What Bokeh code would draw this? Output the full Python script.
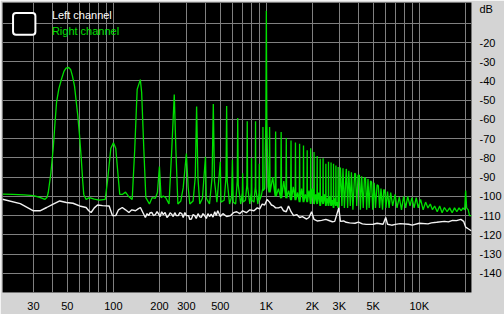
from bokeh.plotting import figure
from bokeh.models import FixedTicker, Label, BoxAnnotation, Range1d
from bokeh.embed import file_html
from bokeh.resources import INLINE

# ---------------- data ----------------
x_tick_hz = [30, 50, 100, 200, 300, 500, 1000, 2000, 3000, 5000, 10000]
x_tick_labels = ["30", "50", "100", "200", "300", "500", "1K", "2K", "3K", "5K", "10K"]
grid_hz = [30, 40, 50, 60, 70, 80, 90, 100, 200, 300, 400, 500, 600, 700, 800, 900,
           1000, 2000, 3000, 4000, 5000, 6000, 7000, 8000, 9000, 10000, 20000]
y_tick_db = [-20, -30, -40, -50, -60, -70, -80, -90, -100, -110, -120, -130, -140]
grid_db = [-10, -20, -30, -40, -50, -60, -70, -80, -90, -100, -110, -120, -130, -140]
unit_y = "dB"
unit_x = "Hz"
series_names = ["Left channel", "Right channel"]

# Right channel (green)
green_hz = [
    18.83, 22, 26, 30, 33, 35.7, 36.8, 37.5, 39, 40.4, 41.5, 42.5, 44, 45.8, 47.5, 49, 51, 52.5, 54,
    55.7, 57, 58.5, 60, 61.6, 63, 64, 66.3, 69.7, 75, 81, 88.4,
    91.5, 96.2, 100, 103.6, 107.2, 110, 114.3, 120, 125, 132.7,
    138, 143, 150, 153, 158, 163, 172, 179, 188, 194, 200, 205, 212, 220, 231,
    241, 250, 256, 264, 276, 286, 300, 308, 316, 332, 343, 350, 357, 367, 382, 400, 405, 425,
    442, 450, 458, 475, 500, 505, 530, 545, 550, 555, 575, 593, 600, 607, 630, 645, 650, 655,
    680, 697, 700, 705, 730, 746, 750, 754, 780, 797, 800, 804, 830, 847, 850, 853, 880, 897,
    900, 904, 925, 947, 950, 953, 975, 993, 1000, 1007, 1025,
    1042, 1050, 1058, 1100, 1142, 1150, 1158, 1200, 1242, 1250, 1258, 1300,
    1342, 1350, 1358, 1400, 1442, 1450, 1458, 1500, 1542, 1550, 1558, 1600,
    1642, 1650, 1658, 1700, 1742, 1750, 1758, 1800, 1842, 1850, 1858, 1900,
    1942, 1950, 1958, 2000, 2042, 2050, 2058, 2100, 2142, 2150, 2158, 2200,
    2242, 2250, 2258, 2300, 2342, 2350, 2358, 2400, 2442, 2450, 2458, 2500,
    2542, 2550, 2558, 2600, 2642, 2650, 2658, 2700, 2742, 2750, 2758, 2800,
    2842, 2850, 2858, 2900, 2942, 2950, 2958, 3000,
    3050, 3120, 3170, 3240, 3330, 3340, 3400, 3460, 3540, 3600, 3680, 3780, 3830, 3900,
    3980, 4060, 4120, 4200, 4300, 4380, 4450, 4530, 4620, 4700, 4800, 4880, 4960, 5070,
    5170, 5300, 5400, 5500, 5620, 5750, 5860, 5950, 6050,
    6200, 6350, 6500, 6700, 6950, 7150, 7400, 7650, 7900, 8150, 8400, 8700, 8950, 9250,
    9550, 9850, 10200, 10600, 11000, 11400, 11800, 12200, 12600, 13100, 13600, 14100,
    14600, 15200, 15800, 16400, 17000, 17600, 18200, 18800, 19300, 19800, 20100, 20400,
    20900, 21300, 21950]
green_db = [
    -98.8, -99, -99.2, -99.6, -100.5, -101.6, -100.5, -98, -88, -75, -62, -51, -44, -39, -35, -33.3, -33, -34, -37.5,
    -42.7, -50, -58, -68, -80, -92, -99, -101.6, -100.7, -101.5, -102, -101.6,
    -92, -75, -72.2, -75, -88.8, -99, -99, -97.8, -99.8, -101.6,
    -75, -44.4, -39.3, -46, -75, -100.7, -104, -100.7, -101, -98, -84.5, -100.7, -99.8, -100.7, -104,
    -75, -47, -75, -104, -102.4, -95.6, -77.7, -95, -104, -102.4, -90, -53.3, -90, -104, -101, -79.4, -101, -104,
    -90, -52, -92, -103, -82, -103, -102, -90, -53, -92, -104, -100, -81, -103, -104, -92, -59.3, -94,
    -104, -98, -88, -103, -102, -94, -61, -95, -104, -98, -80, -102, -103, -95, -61, -96, -104, -98,
    -83, -102, -100, -96, -64, -97, -96, -60, -3.5, -60, -95,
    -98, -64, -98, -90, -100, -66.3, -100, -96, -101, -66.6, -101, -92,
    -101, -69.7, -101, -97, -102, -71, -102, -95, -102, -72, -102, -98,
    -103, -72.6, -103, -96, -103, -73.5, -103, -99, -103, -76, -103, -97,
    -104, -75, -104, -96, -104, -77, -104, -99, -104, -79, -104, -98,
    -105, -80.5, -105, -100, -104, -80.2, -104, -99, -105, -83, -105, -101,
    -105, -82, -105, -100, -105, -82.4, -105, -102, -106, -83, -106, -101,
    -105, -84, -105, -103, -106, -84.7, -106, -102,
    -85, -105, -85.4, -106, -85.8, -86, -106, -86.7, -105, -87.5, -107, -88, -88.4, -105,
    -89, -89, -107, -89.6, -106, -90.3, -90.5, -107, -91, -106, -92, -92.5, -107, -93,
    -106, -94, -94.5, -106, -96, -107, -96.4, -97, -106,
    -97.5, -106, -98, -105, -99, -106, -100.4, -107, -100, -106, -100, -105, -100.7, -106,
    -100.7, -106, -101.6, -107, -103, -106, -104, -107, -105, -108, -105, -108.5,
    -105.8, -108, -106, -108.5, -106, -108, -106, -107.5, -106, -107, -97, -106,
    -107, -110, -110]

# Left channel (white)
white_hz = [
    18.83, 24.6, 30, 33.1, 36.6, 40.4, 44.6, 49.3, 54.4, 60.1, 66.3, 69, 71.5, 75, 78.8, 85,
    93.8, 98.5, 103.6, 108, 114.3, 120, 126.3, 132, 139.5, 145, 150.2, 155, 161.8, 166, 170,
    174, 178.6, 183, 188, 193, 197, 202, 207, 212, 217.8, 224, 230, 235, 240.4, 246, 252, 258,
    265.6, 272, 280, 286, 293.3, 300, 310, 316, 323.8, 332, 340, 348, 357.5, 366, 375, 385,
    394.7, 405, 415, 425, 435.8, 448, 460, 470, 481, 500, 520, 550, 584, 610, 640, 670, 700,
    740, 780, 830, 872, 905, 940, 975, 1011, 1050, 1080, 1115, 1150, 1200, 1250, 1296, 1350,
    1396, 1450, 1507, 1580, 1650, 1720, 1834, 1900, 1976, 2050, 2150, 2300, 2450, 2592, 2700,
    2800, 2975, 3050, 3200, 3327, 3500, 3800, 4000, 4246, 4500, 5000, 5300, 5800, 6035, 6200,
    6600, 6975, 7500, 8500, 9000, 10000, 11400, 12000, 13000, 14600, 15500, 16500, 17500,
    18700, 19500, 20100, 21000, 21950]
white_db = [
    -101.5, -103.8, -107.5, -107.5, -105.8, -104, -102.4, -103.2, -103.6, -105, -105.8, -107.5, -108.4, -106, -104.5, -104.8,
    -105, -110, -110, -107, -105.8, -107, -108.4, -107, -107.5, -106.5, -105.8, -108, -111, -109, -110,
    -108.5, -108.4, -110, -109.5, -108, -109, -110.5, -108, -109.5, -108.4, -111, -110, -108.5, -109.3, -110.5, -108.5, -110,
    -110, -108.5, -109, -111, -108.4, -110, -110, -112, -111.8, -109.5, -110, -111.5, -109, -110.5, -111, -109,
    -110, -111.5, -109, -110.5, -109.3, -110.8, -108, -110, -107.5, -110.5, -109, -110.5, -110, -108.5, -108, -109, -107.5,
    -108.5, -107, -107.5, -106, -106.5, -104, -104.5, -101.6, -103, -104.5, -105, -106, -106, -105.5, -107.5, -108,
    -105, -108, -110, -109.5, -111, -110.5, -111.8, -111, -108, -112, -112.8, -112.5, -112, -112.7, -113.2,
    -113, -106, -113, -112.8, -113.5, -113.8, -114, -113.4, -114.3, -114.6, -114.5, -114, -114.5, -111, -114.5,
    -115, -114.6, -114.2, -114.5, -115, -114, -114.3, -113.8, -113.5, -113, -113.3, -112.5, -112.6,
    -112, -113, -116, -117, -118]

# ---------------- styles ----------------
BG = "#d4d4d4"
GRID = "#808080"
GREEN = "#00e000"
WHITE = "#f2f2f2"
FONT = "Liberation Sans"

p = figure(width=504, height=314, x_axis_type="log", y_axis_location="right",
           x_range=Range1d(18.83, 21950), y_range=Range1d(-150, 0.8),
           output_backend="svg", toolbar_location=None,
           background_fill_color="black", border_fill_color=BG,
           min_border_left=2, min_border_right=27, min_border_top=2, min_border_bottom=17,
           outline_line_color=None)

p.xaxis.ticker = FixedTicker(ticks=x_tick_hz, minor_ticks=[])
p.xaxis.major_label_overrides = {t: l for t, l in zip(x_tick_hz, x_tick_labels)}
yt = y_tick_db + [-2.5]
p.yaxis.ticker = FixedTicker(ticks=yt, minor_ticks=[])
ov = {t: str(t) for t in y_tick_db}
ov[-2.5] = unit_y
p.yaxis.major_label_overrides = ov

for ax in (p.xaxis, p.yaxis):
    ax.axis_line_color = None
    ax.major_tick_line_color = None
    ax.minor_tick_line_color = None
    ax.major_label_text_font = FONT
    ax.major_label_text_font_size = "11px"
    ax.major_label_text_color = "black"
p.xaxis.major_label_standoff = 1
p.yaxis.major_label_standoff = 2

p.xgrid.ticker = FixedTicker(ticks=grid_hz, minor_ticks=[])
p.ygrid.ticker = FixedTicker(ticks=grid_db, minor_ticks=[])
for g in (p.xgrid, p.ygrid):
    g.grid_line_color = GRID
    g.grid_line_width = 1
    g.grid_line_alpha = 1

p.line(green_hz, green_db, line_color=GREEN, line_width=1.3)
p.line(white_hz, white_db, line_color=WHITE, line_width=1.4)

# legend
icon = BoxAnnotation(left=22.07, right=30.9, top=-4.67, bottom=-15.92,
                     fill_color="black", fill_alpha=1, line_color="white", line_alpha=1,
                     line_width=2, border_radius=3)
p.add_layout(icon)
p.add_layout(Label(x=39.6, y=-5.6, text=series_names[0], text_color="white",
                   text_font=FONT, text_font_size="11px", text_baseline="middle"))
p.add_layout(Label(x=39.6, y=-13.8, text=series_names[1], text_color=GREEN,
                   text_font=FONT, text_font_size="11px", text_baseline="middle"))
# unit label for the frequency axis
p.add_layout(Label(x=21950, y=-153.5, x_offset=1, text=unit_x, text_color="black",
                   text_font=FONT, text_font_size="11px", text_baseline="middle"))

open("out.html", "w").write(file_html(p, INLINE))
